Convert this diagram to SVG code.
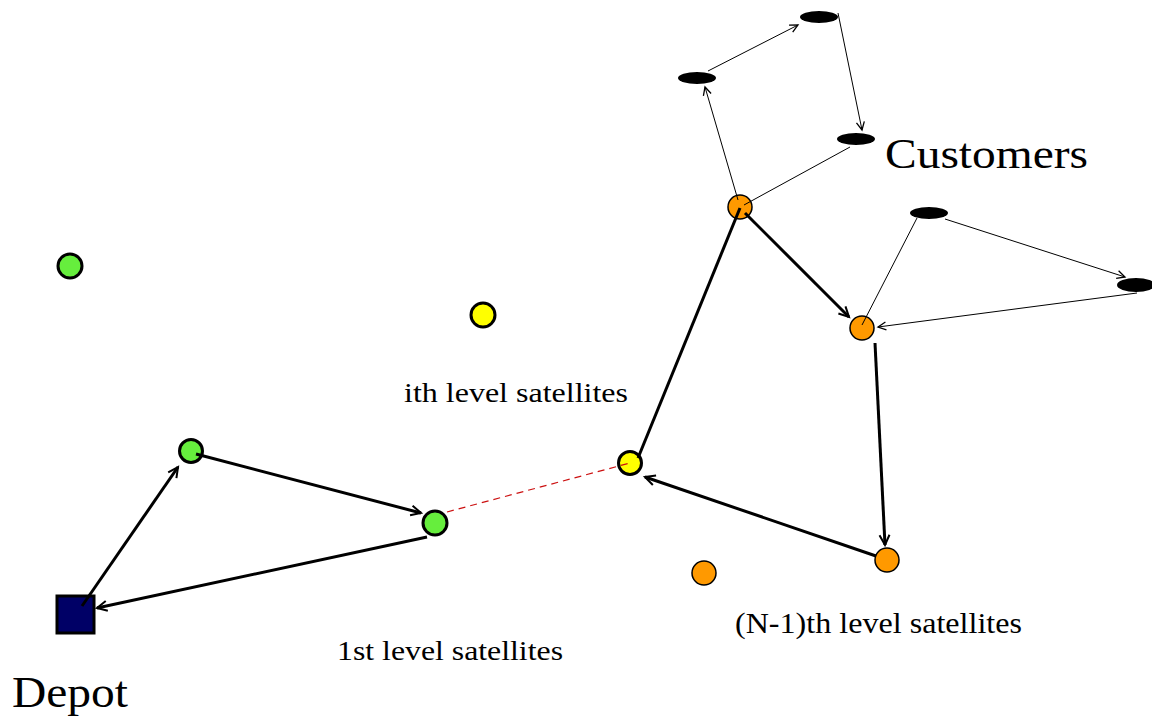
<svg xmlns="http://www.w3.org/2000/svg" width="1152" height="720" viewBox="0 0 1152 720">
<style>
.lbl{font-family:"Liberation Serif","Times New Roman",serif;fill:#000}
.thick{stroke:#000;stroke-width:3;fill:none}
.thin{stroke:#000;stroke-width:1;fill:none}
.dash{stroke:#cc1111;stroke-width:1.2;stroke-dasharray:7,5;fill:none}
.g{fill:#66ee3d;stroke:#000;stroke-width:3}
.y{fill:#ffff00;stroke:#000;stroke-width:3}
.o{fill:#ff9900;stroke:#000;stroke-width:1.5}
.c{fill:#000}
</style>
<defs>
<marker id="ah" markerUnits="userSpaceOnUse" markerWidth="14" markerHeight="14" refX="11" refY="6" orient="auto" viewBox="0 0 14 12">
<path d="M1,1 L11,6 L1,11" fill="none" stroke="#000" stroke-width="2"/>
</marker>
<marker id="aht" markerUnits="userSpaceOnUse" markerWidth="12" markerHeight="12" refX="9" refY="5" orient="auto" viewBox="0 0 12 10">
<path d="M1,1 L9,5 L1,9" fill="none" stroke="#000" stroke-width="1.3"/>
</marker>
</defs>
<rect width="1152" height="720" fill="#fff"/>
<g id="depot"><rect x="57" y="596" width="37" height="37" fill="#000066" stroke="#000" stroke-width="3"/></g>
<g id="g1"><circle cx="191" cy="451" r="11.5" class="g"/></g>
<g id="g2"><circle cx="435" cy="523" r="12" class="g"/></g>
<g id="g3"><circle cx="70" cy="266" r="12" class="g"/></g>
<g id="y1"><circle cx="630" cy="463" r="11.5" class="y"/></g>
<g id="y2"><circle cx="483" cy="315" r="12" class="y"/></g>
<g id="o1"><circle cx="740" cy="207" r="12" class="o"/></g>
<g id="o2"><circle cx="862" cy="328" r="12" class="o"/></g>
<g id="o3"><circle cx="887" cy="560" r="12" class="o"/></g>
<g id="o4"><circle cx="704" cy="573" r="12" class="o"/></g>
<g id="c1"><ellipse cx="697" cy="78" rx="19" ry="6" class="c"/></g>
<g id="c2"><ellipse cx="819" cy="17" rx="19" ry="6" class="c"/></g>
<g id="c3"><ellipse cx="856" cy="139" rx="19" ry="6" class="c"/></g>
<g id="c4"><ellipse cx="929" cy="213" rx="19" ry="6" class="c"/></g>
<g id="c5"><ellipse cx="1136" cy="285" rx="19" ry="7" class="c"/></g>
<g id="connectors">
<line x1="82" y1="606" x2="178" y2="467" class="thick" marker-end="url(#ah)"/>
<line x1="427" y1="537" x2="97" y2="608" class="thick" marker-end="url(#ah)"/>
<line x1="196" y1="454" x2="421" y2="513" class="thick" marker-end="url(#ah)"/>
<line x1="638" y1="458" x2="740" y2="208" class="thick"/>
<line x1="745" y1="213" x2="849" y2="317" class="thick" marker-end="url(#ah)"/>
<line x1="875" y1="343" x2="885" y2="545" class="thick" marker-end="url(#ah)"/>
<line x1="876" y1="556" x2="645" y2="477" class="thick" marker-end="url(#ah)"/>
<line x1="447" y1="512" x2="630" y2="463" class="dash"/>
<line x1="738" y1="200" x2="705" y2="87" class="thin" marker-end="url(#aht)"/>
<line x1="708" y1="71" x2="798" y2="25" class="thin" marker-end="url(#aht)"/>
<line x1="838" y1="13" x2="862" y2="130" class="thin" marker-end="url(#aht)"/>
<line x1="850" y1="147" x2="744" y2="205" class="thin"/>
<line x1="862" y1="325" x2="917" y2="218" class="thin"/>
<line x1="945" y1="219" x2="1125" y2="277" class="thin" marker-end="url(#aht)"/>
<line x1="1137" y1="293" x2="878" y2="327" class="thin" marker-end="url(#aht)"/>
</g>
<g id="labels">
<text x="885" y="168" class="lbl" font-size="42" textLength="203" lengthAdjust="spacingAndGlyphs">Customers</text>
<text x="12" y="707" class="lbl" font-size="45" textLength="116" lengthAdjust="spacingAndGlyphs">Depot</text>
<text x="404" y="402" class="lbl" font-size="28" textLength="224" lengthAdjust="spacingAndGlyphs">ith level satellites</text>
<text x="337" y="660" class="lbl" font-size="28" textLength="226" lengthAdjust="spacingAndGlyphs">1st level satellites</text>
<text x="735" y="633" class="lbl" font-size="29" textLength="287" lengthAdjust="spacingAndGlyphs">(N-1)th level satellites</text>
</g>
</svg>
